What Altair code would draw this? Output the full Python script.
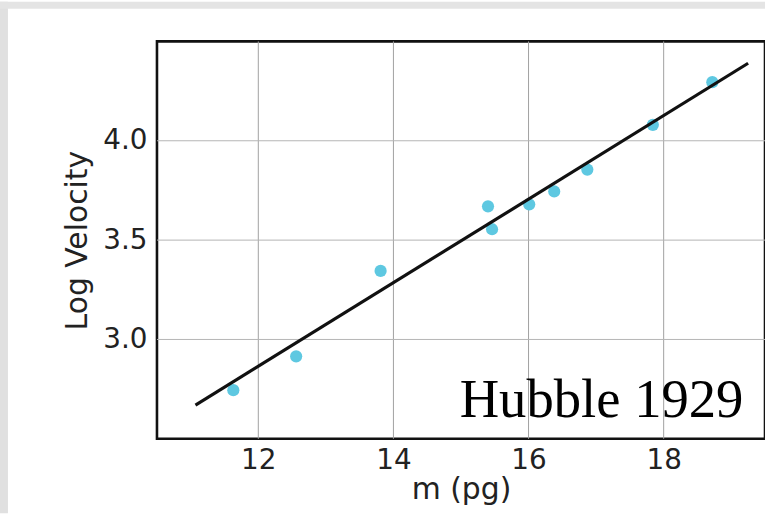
import altair as alt
import pandas as pd

# Hubble 1929 data
m_pg = [11.63, 12.56, 13.81, 15.40, 15.46, 16.01, 16.38, 16.87, 17.84, 18.72]
log_v = [2.745, 2.915, 3.345, 3.67, 3.555, 3.68, 3.745, 3.855, 4.08, 4.295]

fit_m = [11.07, 19.25]
fit_logv = [2.67, 4.39]

x_grid = [12, 14, 16, 18]
y_grid = [3.0, 3.5, 4.0]

label_text = ["Hubble 1929"]
label_m = [19.18]
label_logv = [2.61]

pts = pd.DataFrame({"m": m_pg, "v": log_v})
fit = pd.DataFrame({"m": fit_m, "v": fit_logv})
xg = pd.DataFrame({"m": x_grid})
yg = pd.DataFrame({"v": y_grid})
lab = pd.DataFrame({"m": label_m, "v": label_logv, "t": label_text})

xs = alt.Scale(domain=[10.5, 19.5], nice=False, zero=False)
ys = alt.Scale(domain=[2.5, 4.5], nice=False, zero=False)

axis_common = dict(
    grid=False, domain=False, ticks=False,
    labelFont="DejaVu Sans", labelFontSize=28, labelColor="#222222",
    titleFont="DejaVu Sans", titleFontSize=30, titleColor="#222222",
    titleFontWeight="normal", zindex=1,
)

strip_left = alt.Chart(alt.Data(values=[{}])).mark_rect(color="#e0e0e0").encode(
    x=alt.value(-158), x2=alt.value(-150), y=alt.value(-40), y2=alt.value(475)
)
strip_top = alt.Chart(alt.Data(values=[{}])).mark_rect(color="#e4e4e4").encode(
    x=alt.value(-158), x2=alt.value(620), y=alt.value(-40), y2=alt.value(-33)
)

vgrid = alt.Chart(xg).mark_rule(color="#a0a0a0", strokeWidth=1).encode(
    x=alt.X("m:Q", scale=xs,
            axis=alt.Axis(title="m (pg)", values=x_grid, format="d", labelPadding=8,
                          titlePadding=0, **axis_common))
)
hgrid = alt.Chart(yg).mark_rule(color="#b4b4b4", strokeWidth=1).encode(
    y=alt.Y("v:Q", scale=ys,
            axis=alt.Axis(title="Log Velocity", values=y_grid, format=".1f",
                          labelPadding=10, titlePadding=10, **axis_common))
)

points = alt.Chart(pts).mark_point(filled=True, shape="circle", size=150,
                                   color="#5ec8e1", opacity=1).encode(
    x=alt.X("m:Q", scale=xs), y=alt.Y("v:Q", scale=ys)
)

line = alt.Chart(fit).mark_line(color="#111111", strokeWidth=3.2).encode(
    x=alt.X("m:Q", scale=xs), y=alt.Y("v:Q", scale=ys)
)

text = alt.Chart(lab).mark_text(font="Liberation Serif", fontSize=55, align="right",
                                baseline="alphabetic", color="#000000").encode(
    x=alt.X("m:Q", scale=xs), y=alt.Y("v:Q", scale=ys), text="t:N"
)

chart = alt.layer(strip_left, strip_top, vgrid, hgrid, points, line, text).properties(
    width=612, height=400,
    autosize=alt.AutoSizeParams(type="none"),
    padding={"left": 158, "top": 40, "right": 0, "bottom": 75},
    background="white",
).configure_view(stroke="#111111", strokeWidth=2.6)

chart.save("out.html", embed_options={"renderer": "svg", "actions": False})
